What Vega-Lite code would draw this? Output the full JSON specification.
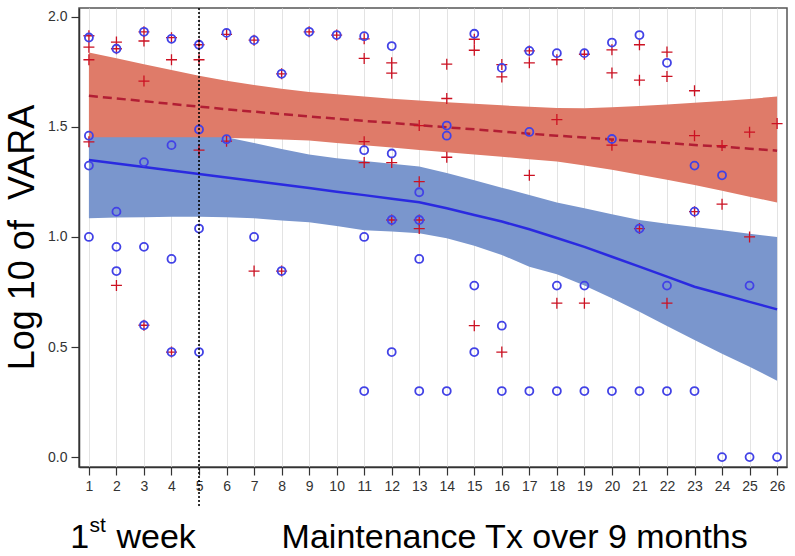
{
  "$schema": "https://vega.github.io/schema/vega-lite/v6.json",
  "width": 708,
  "height": 459,
  "autosize": {"type": "none"},
  "padding": {"left": 79, "top": 8, "right": 8, "bottom": 89},
  "background": "white",
  "config": {
    "view": {"stroke": "#555555", "strokeWidth": 1.5},
    "font": "Liberation Sans"
  },
  "datasets": {
    "bands": [
      {"x": 1, "rl": 1.44, "rm": 1.641, "ru": 1.838, "bl": 1.085, "bm": 1.35, "bu": 1.453},
      {"x": 2, "rl": 1.44, "rm": 1.629, "ru": 1.812, "bl": 1.088, "bm": 1.334, "bu": 1.453},
      {"x": 3, "rl": 1.44, "rm": 1.617, "ru": 1.785, "bl": 1.09, "bm": 1.318, "bu": 1.453},
      {"x": 4, "rl": 1.44, "rm": 1.604, "ru": 1.758, "bl": 1.092, "bm": 1.302, "bu": 1.453},
      {"x": 5, "rl": 1.44, "rm": 1.592, "ru": 1.732, "bl": 1.092, "bm": 1.286, "bu": 1.453},
      {"x": 6, "rl": 1.45, "rm": 1.58, "ru": 1.71, "bl": 1.09, "bm": 1.27, "bu": 1.453},
      {"x": 7, "rl": 1.447, "rm": 1.569, "ru": 1.69, "bl": 1.085, "bm": 1.254, "bu": 1.427},
      {"x": 8, "rl": 1.443, "rm": 1.558, "ru": 1.673, "bl": 1.075, "bm": 1.238, "bu": 1.4},
      {"x": 9, "rl": 1.438, "rm": 1.547, "ru": 1.658, "bl": 1.067, "bm": 1.222, "bu": 1.375},
      {"x": 10, "rl": 1.427, "rm": 1.537, "ru": 1.648, "bl": 1.05, "bm": 1.205, "bu": 1.357},
      {"x": 11, "rl": 1.416, "rm": 1.527, "ru": 1.638, "bl": 1.03, "bm": 1.19, "bu": 1.345},
      {"x": 12, "rl": 1.406, "rm": 1.518, "ru": 1.628, "bl": 1.025, "bm": 1.174, "bu": 1.332},
      {"x": 13, "rl": 1.395, "rm": 1.508, "ru": 1.62, "bl": 1.017, "bm": 1.158, "bu": 1.32},
      {"x": 14, "rl": 1.385, "rm": 1.498, "ru": 1.612, "bl": 0.994, "bm": 1.13, "bu": 1.29},
      {"x": 15, "rl": 1.374, "rm": 1.489, "ru": 1.605, "bl": 0.96, "bm": 1.1, "bu": 1.257},
      {"x": 16, "rl": 1.364, "rm": 1.479, "ru": 1.598, "bl": 0.918, "bm": 1.07, "bu": 1.224},
      {"x": 17, "rl": 1.353, "rm": 1.469, "ru": 1.591, "bl": 0.865, "bm": 1.035, "bu": 1.19},
      {"x": 18, "rl": 1.343, "rm": 1.46, "ru": 1.586, "bl": 0.83, "bm": 0.995, "bu": 1.157},
      {"x": 19, "rl": 1.325, "rm": 1.452, "ru": 1.585, "bl": 0.78, "bm": 0.955, "bu": 1.13},
      {"x": 20, "rl": 1.305, "rm": 1.443, "ru": 1.589, "bl": 0.721, "bm": 0.91, "bu": 1.103},
      {"x": 21, "rl": 1.283, "rm": 1.435, "ru": 1.595, "bl": 0.66, "bm": 0.865, "bu": 1.077},
      {"x": 22, "rl": 1.26, "rm": 1.427, "ru": 1.602, "bl": 0.595, "bm": 0.82, "bu": 1.06},
      {"x": 23, "rl": 1.236, "rm": 1.418, "ru": 1.61, "bl": 0.532, "bm": 0.774, "bu": 1.045},
      {"x": 24, "rl": 1.21, "rm": 1.41, "ru": 1.618, "bl": 0.47, "bm": 0.74, "bu": 1.03},
      {"x": 25, "rl": 1.183, "rm": 1.401, "ru": 1.627, "bl": 0.41, "bm": 0.705, "bu": 1.015},
      {"x": 26, "rl": 1.156, "rm": 1.392, "ru": 1.638, "bl": 0.347, "bm": 0.671, "bu": 1.0}
    ],
    "plus": [
      {"x": 1, "y": 1.914}, {"x": 1, "y": 1.862}, {"x": 1, "y": 1.805}, {"x": 1, "y": 1.432},
      {"x": 2, "y": 1.885}, {"x": 2, "y": 1.855}, {"x": 2, "y": 0.78},
      {"x": 3, "y": 1.932}, {"x": 3, "y": 1.89}, {"x": 3, "y": 1.708}, {"x": 3, "y": 0.599},
      {"x": 4, "y": 1.905}, {"x": 4, "y": 1.805}, {"x": 4, "y": 0.477},
      {"x": 5, "y": 1.873}, {"x": 5, "y": 1.805}, {"x": 5, "y": 1.394},
      {"x": 6, "y": 1.92}, {"x": 6, "y": 1.435},
      {"x": 7, "y": 1.894}, {"x": 7, "y": 0.845},
      {"x": 8, "y": 1.741}, {"x": 8, "y": 0.845},
      {"x": 9, "y": 1.932},
      {"x": 10, "y": 1.917},
      {"x": 11, "y": 1.9}, {"x": 11, "y": 1.811}, {"x": 11, "y": 1.433}, {"x": 11, "y": 1.338},
      {"x": 12, "y": 1.791}, {"x": 12, "y": 1.744}, {"x": 12, "y": 1.338}, {"x": 12, "y": 1.077},
      {"x": 13, "y": 1.506}, {"x": 13, "y": 1.251}, {"x": 13, "y": 1.077}, {"x": 13, "y": 1.038},
      {"x": 14, "y": 1.785}, {"x": 14, "y": 1.629}, {"x": 14, "y": 1.362},
      {"x": 15, "y": 1.898}, {"x": 15, "y": 1.848}, {"x": 15, "y": 0.597},
      {"x": 16, "y": 1.783}, {"x": 16, "y": 1.727}, {"x": 16, "y": 0.477},
      {"x": 17, "y": 1.845}, {"x": 17, "y": 1.791}, {"x": 17, "y": 1.28},
      {"x": 18, "y": 1.805}, {"x": 18, "y": 1.533}, {"x": 18, "y": 0.699},
      {"x": 19, "y": 1.83}, {"x": 19, "y": 0.699},
      {"x": 20, "y": 1.85}, {"x": 20, "y": 1.745}, {"x": 20, "y": 1.417},
      {"x": 21, "y": 1.873}, {"x": 21, "y": 1.712}, {"x": 21, "y": 1.038},
      {"x": 22, "y": 1.84}, {"x": 22, "y": 1.729}, {"x": 22, "y": 0.699},
      {"x": 23, "y": 1.664}, {"x": 23, "y": 1.46}, {"x": 23, "y": 1.115},
      {"x": 24, "y": 1.415}, {"x": 24, "y": 1.149},
      {"x": 25, "y": 1.476}, {"x": 25, "y": 1.0},
      {"x": 26, "y": 1.515}
    ],
    "circ": [
      {"x": 1, "y": 1.906}, {"x": 1, "y": 1.46}, {"x": 1, "y": 1.324}, {"x": 1, "y": 1.0},
      {"x": 2, "y": 1.855}, {"x": 2, "y": 1.115}, {"x": 2, "y": 0.955}, {"x": 2, "y": 0.845},
      {"x": 3, "y": 1.932}, {"x": 3, "y": 1.34}, {"x": 3, "y": 0.955}, {"x": 3, "y": 0.599},
      {"x": 4, "y": 1.9}, {"x": 4, "y": 1.417}, {"x": 4, "y": 0.9}, {"x": 4, "y": 0.477},
      {"x": 5, "y": 1.873}, {"x": 5, "y": 1.488}, {"x": 5, "y": 1.038}, {"x": 5, "y": 0.477},
      {"x": 6, "y": 1.927}, {"x": 6, "y": 1.444},
      {"x": 7, "y": 1.894}, {"x": 7, "y": 1.0},
      {"x": 8, "y": 1.741}, {"x": 8, "y": 0.845},
      {"x": 9, "y": 1.932},
      {"x": 10, "y": 1.917},
      {"x": 11, "y": 1.912}, {"x": 11, "y": 1.394}, {"x": 11, "y": 1.0}, {"x": 11, "y": 0.3},
      {"x": 12, "y": 1.867}, {"x": 12, "y": 1.379}, {"x": 12, "y": 1.077}, {"x": 12, "y": 0.477},
      {"x": 13, "y": 1.203}, {"x": 13, "y": 1.077}, {"x": 13, "y": 0.9}, {"x": 13, "y": 0.3},
      {"x": 14, "y": 1.506}, {"x": 14, "y": 1.46}, {"x": 14, "y": 0.3},
      {"x": 15, "y": 1.923}, {"x": 15, "y": 0.779}, {"x": 15, "y": 0.477},
      {"x": 16, "y": 1.768}, {"x": 16, "y": 0.597}, {"x": 16, "y": 0.3},
      {"x": 17, "y": 1.845}, {"x": 17, "y": 1.477}, {"x": 17, "y": 0.3},
      {"x": 18, "y": 1.835}, {"x": 18, "y": 0.779}, {"x": 18, "y": 0.3},
      {"x": 19, "y": 1.835}, {"x": 19, "y": 0.779}, {"x": 19, "y": 0.3},
      {"x": 20, "y": 1.883}, {"x": 20, "y": 1.445}, {"x": 20, "y": 0.3},
      {"x": 21, "y": 1.917}, {"x": 21, "y": 1.038}, {"x": 21, "y": 0.3},
      {"x": 22, "y": 1.791}, {"x": 22, "y": 0.779}, {"x": 22, "y": 0.3},
      {"x": 23, "y": 1.324}, {"x": 23, "y": 1.115}, {"x": 23, "y": 0.3},
      {"x": 24, "y": 1.28}, {"x": 24, "y": 0.0},
      {"x": 25, "y": 0.779}, {"x": 25, "y": 0.0},
      {"x": 26, "y": 0.0}
    ],
    "marker": [{"x": 5}]
  },
  "layer": [
    {
      "data": {"name": "bands"},
      "mark": {"type": "area", "color": "#DF7B69", "opacity": 1},
      "encoding": {
        "x": {
          "field": "x", "type": "quantitative",
          "scale": {"domain": [0.64, 26.36], "nice": false, "zero": false},
          "axis": {
            "title": null,
            "values": [1,2,3,4,5,6,7,8,9,10,11,12,13,14,15,16,17,18,19,20,21,22,23,24,25,26],
            "tickCount": 26,
            "format": "d",
            "grid": true, "gridColor": "#e3e3e3", "gridWidth": 1,
            "domainColor": "#333333", "domainWidth": 1.5,
            "tickColor": "#333333", "tickSize": 8, "tickWidth": 1.2,
            "labelFont": "Liberation Sans Narrow, Liberation Sans", "labelFontSize": 14, "labelColor": "#333333",
            "labelPadding": 4, "labelFlush": false, "labelOverlap": false
          }
        },
        "y": {
          "field": "rl", "type": "quantitative",
          "scale": {"domain": [-0.045, 2.04], "nice": false, "zero": false},
          "axis": {
            "title": "Log 10 of\u00a0 VARA",
            "values": [0, 0.5, 1, 1.5, 2],
            "format": ".1f",
            "grid": false,
            "domainColor": "#333333", "domainWidth": 1.5,
            "tickColor": "#333333", "tickSize": 8, "tickWidth": 1.2,
            "labelFont": "Liberation Sans Narrow, Liberation Sans", "labelFontSize": 14, "labelColor": "#333333",
            "labelPadding": 4, "labelFlush": false,
            "titleFont": "Liberation Sans", "titleFontSize": 36, "titleFontWeight": "normal", "titleColor": "#000000",
            "titleAngle": -90, "titleAlign": "center", "titleBaseline": "alphabetic",
            "titleX": -46, "titleY": 229
          }
        },
        "y2": {"field": "ru"}
      }
    },
    {
      "data": {"name": "bands"},
      "mark": {"type": "area", "color": "#7A96CD", "opacity": 1},
      "encoding": {
        "x": {"field": "x", "type": "quantitative"},
        "y": {"field": "bl", "type": "quantitative"},
        "y2": {"field": "bu"}
      }
    },
    {
      "data": {"name": "bands"},
      "mark": {"type": "line", "color": "#B21E34", "strokeWidth": 2.5, "strokeDash": [9, 5]},
      "encoding": {
        "x": {"field": "x", "type": "quantitative"},
        "y": {"field": "rm", "type": "quantitative"}
      }
    },
    {
      "data": {"name": "bands"},
      "mark": {"type": "line", "color": "#2A2AE0", "strokeWidth": 2.5},
      "encoding": {
        "x": {"field": "x", "type": "quantitative"},
        "y": {"field": "bm", "type": "quantitative"}
      }
    },
    {
      "data": {"name": "plus"},
      "mark": {"type": "point", "shape": "M-1,0L1,0M0,-1L0,1", "filled": false, "stroke": "#CC1122", "strokeWidth": 1.3, "size": 121, "opacity": 1},
      "encoding": {
        "x": {"field": "x", "type": "quantitative"},
        "y": {"field": "y", "type": "quantitative"}
      }
    },
    {
      "data": {"name": "circ"},
      "mark": {"type": "point", "shape": "circle", "filled": false, "stroke": "#4242E6", "strokeWidth": 1.8, "size": 64, "opacity": 1},
      "encoding": {
        "x": {"field": "x", "type": "quantitative"},
        "y": {"field": "y", "type": "quantitative"}
      }
    },
    {
      "data": {"name": "marker"},
      "mark": {"type": "rule", "color": "#000000", "strokeWidth": 1.6, "strokeDash": [2, 2], "clip": false},
      "encoding": {
        "x": {"field": "x", "type": "quantitative"},
        "y": {"datum": 2.04},
        "y2": {"datum": -0.227}
      }
    },
    {
      "data": {"name": "marker"},
      "mark": {"type": "text", "text": "1", "font": "Liberation Sans", "fontSize": 34, "align": "left", "baseline": "alphabetic", "color": "#000000"},
      "encoding": {"x": {"datum": 0.32}, "y": {"datum": -0.4136}}
    },
    {
      "data": {"name": "marker"},
      "mark": {"type": "text", "text": "st", "font": "Liberation Sans", "fontSize": 21, "align": "left", "baseline": "alphabetic", "color": "#000000"},
      "encoding": {"x": {"datum": 1.02}, "y": {"datum": -0.341}}
    },
    {
      "data": {"name": "marker"},
      "mark": {"type": "text", "text": "week", "font": "Liberation Sans", "fontSize": 34, "align": "left", "baseline": "alphabetic", "color": "#000000"},
      "encoding": {"x": {"datum": 2.0}, "y": {"datum": -0.4136}}
    },
    {
      "data": {"name": "marker"},
      "mark": {"type": "text", "text": "Maintenance Tx over 9 months", "font": "Liberation Sans", "fontSize": 34, "align": "left", "baseline": "alphabetic", "color": "#000000"},
      "encoding": {"x": {"datum": 8.0}, "y": {"datum": -0.4136}}
    }
  ]
}
